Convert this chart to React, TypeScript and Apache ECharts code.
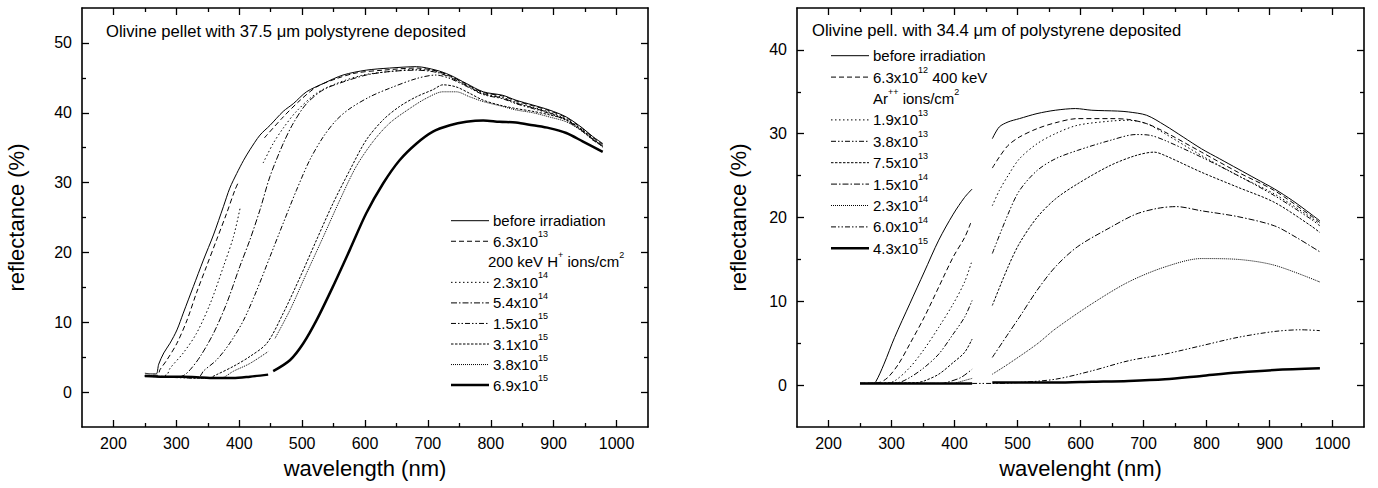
import React, { useEffect, useRef } from "react";
import * as echarts from "echarts";

const FONT = "Liberation Sans, Arial, Helvetica, sans-serif";

// ---------- axis ticks ----------
const xMajor = [200, 300, 400, 500, 600, 700, 800, 900, 1000];
const xMinor = [250, 350, 450, 550, 650, 750, 850, 950];
const yMajorL = [0, 10, 20, 30, 40, 50];
const yMinorL = [5, 15, 25, 35, 45];
const yMajorR = [0, 10, 20, 30, 40];
const yMinorR = [5, 15, 25, 35];

// ---------- left panel: 200 keV H+ ----------
const L_before = [[250,2.7],[260,2.6],[268,2.6],[272,4.0],[280,5.6],[290,7.0],[301,8.9],[311,11.3],[327,15.1],[343,18.9],[359,22.5],[375,26.6],[385,29.2],[396,31.3],[407,33.2],[417,34.7],[433,36.8],[449,38.2],[470,40.2],[486,41.3],[507,43.0],[534,44.2],[565,45.4],[602,46.1],[639,46.4],[682,46.6],[713,46.1],[735,45.4],[761,44.2],[788,43.0],[819,42.5],[840,41.8],[867,41.1],[893,40.4],[920,39.4],[946,37.8],[962,36.6],[978,35.6]];
const L_63e13 = [[250,2.4],[270,2.4],[274,3.2],[285,4.6],[301,7.0],[317,10.3],[332,14.2],[348,18.0],[364,21.8],[380,25.6],[393,28.9],[399,30.1],[420,null],[440,36.4],[470,39.4],[497,41.8],[523,43.7],[555,44.9],[586,45.7],[629,46.1],[682,46.4],[713,46.0],[735,45.3],[761,44.1],[788,42.9],[819,42.4],[840,41.7],[867,41.0],[893,40.3],[920,39.3],[946,37.7],[962,36.5],[978,35.5]];
const L_23e14 = [[250,2.3],[270,2.2],[285,2.5],[290,3.4],[311,5.6],[332,8.4],[354,12.7],[375,18.0],[391,22.3],[402,26.6],[420,null],[438,32.8],[454,35.6],[470,37.8],[491,40.2],[523,42.8],[555,44.2],[597,45.4],[639,45.9],[682,46.2],[713,45.9],[735,45.2],[761,44.0],[788,42.8],[819,42.2],[840,41.5],[867,40.8],[893,40.1],[920,39.1],[946,37.5],[962,36.3],[978,35.4]];
const L_54e14 = [[250,2.3],[300,2.1],[312,2.4],[322,3.2],[338,5.1],[359,8.4],[380,12.7],[401,18.0],[417,21.8],[433,26.1],[449,30.9],[470,35.6],[486,38.5],[507,41.3],[534,43.3],[565,44.4],[602,45.4],[639,45.9],[682,46.1],[713,45.8],[735,45.1],[761,43.9],[788,42.7],[819,42.1],[840,41.4],[867,40.7],[893,40.0],[920,39.0],[946,37.4],[962,36.2],[978,35.3]];
const L_15e15 = [[250,2.3],[330,2.0],[338,2.3],[343,3.0],[364,4.6],[385,7.0],[407,10.3],[428,14.6],[449,19.4],[470,24.2],[491,28.9],[512,33.2],[534,36.6],[555,39.0],[576,40.6],[608,42.3],[639,43.5],[682,44.9],[713,45.4],[735,44.9],[761,43.8],[788,42.6],[819,42.0],[840,41.3],[867,40.6],[893,39.9],[920,38.9],[946,37.3],[962,36.1],[978,35.2]];
const L_31e15 = [[250,2.3],[350,2.0],[364,2.5],[391,3.7],[417,5.1],[444,7.0],[470,11.3],[497,16.5],[523,21.8],[549,27.0],[576,31.8],[602,36.1],[629,39.0],[655,40.9],[682,42.3],[708,43.3],[724,44.0],[745,43.7],[766,42.8],[788,41.8],[814,41.1],[840,40.6],[867,40.2],[893,39.7],[920,39.0],[946,37.5],[978,35.1]];
const L_38e15 = [[250,2.3],[370,2.0],[391,3.0],[417,4.1],[446,5.8],[451,null],[457,7.7],[481,11.8],[507,17.0],[534,22.3],[560,27.5],[586,32.3],[613,35.9],[639,38.5],[671,40.6],[698,42.1],[724,43.0],[745,43.0],[766,42.3],[788,41.6],[819,40.9],[840,40.4],[867,40.0],[893,39.4],[920,38.7],[946,37.3],[978,35.1]];
const L_69e15 = [[250,2.3],[280,2.2],[311,2.2],[340,2.1],[364,2.0],[390,2.0],[417,2.2],[446,2.5],[450,null],[454,3.0],[481,4.6],[502,7.0],[523,10.3],[549,15.1],[576,20.4],[602,25.6],[629,29.9],[655,33.2],[682,35.6],[708,37.3],[735,38.2],[761,38.7],[788,38.9],[814,38.7],[840,38.6],[867,38.2],[893,37.8],[920,37.1],[946,35.9],[978,34.4]];

// ---------- right panel: 400 keV Ar++ ----------
const R_before = [[250,0.2],[270,0.2],[275,0.4],[288,2.5],[305,5.7],[329,9.7],[352,13.5],[375,17.3],[398,20.4],[416,22.4],[428,23.4],[445,null],[460,29.4],[471,30.8],[485,31.4],[503,31.8],[531,32.4],[560,32.8],[592,33.0],[618,32.8],[659,32.7],[676,32.6],[705,32.2],[734,31.0],[763,29.6],[792,28.2],[821,27.0],[850,25.8],[879,24.6],[908,23.4],[937,22.0],[966,20.4],[980,19.6]];
const R_63e12 = [[250,0.2],[280,0.3],[294,0.9],[311,2.5],[329,4.9],[352,8.1],[375,11.7],[398,15.3],[416,17.6],[426,19.4],[445,null],[460,25.9],[471,27.2],[485,28.6],[503,29.6],[531,30.6],[560,31.3],[595,31.8],[647,31.8],[676,31.7],[705,31.2],[734,30.2],[792,27.8],[850,25.4],[908,23.2],[966,20.2],[980,19.4]];
const R_19e13 = [[250,0.2],[290,0.2],[305,0.5],[329,2.1],[352,4.3],[375,6.9],[398,9.7],[416,12.3],[428,14.9],[445,null],[460,21.4],[471,23.2],[485,25.0],[503,27.0],[531,28.8],[560,30.0],[595,31.0],[647,31.5],[676,31.6],[705,31.2],[734,30.0],[792,27.4],[850,25.0],[908,22.8],[966,20.0],[980,19.2]];
const R_38e13 = [[250,0.2],[310,0.3],[329,0.9],[352,2.1],[375,3.7],[398,6.1],[416,8.1],[428,10.1],[445,null],[460,15.7],[485,20.4],[503,23.2],[531,25.6],[560,27.0],[595,28.0],[647,29.2],[688,29.9],[711,29.8],[734,29.2],[792,27.2],[850,25.0],[908,22.6],[966,19.8],[980,19.0]];
const R_75e13 = [[250,0.2],[340,0.3],[352,0.5],[375,1.3],[398,2.7],[416,3.9],[428,5.5],[445,null],[460,9.5],[485,14.1],[503,16.9],[531,20.0],[560,22.2],[595,24.0],[647,26.2],[688,27.4],[717,27.8],[734,27.4],[792,25.4],[850,23.6],[908,21.8],[966,19.0],[980,18.2]];
const R_15e14 = [[250,0.2],[380,0.2],[387,0.3],[410,0.9],[428,1.9],[445,null],[460,3.3],[485,6.1],[503,8.1],[531,11.3],[560,14.1],[595,16.5],[647,18.8],[688,20.4],[723,21.1],[752,21.3],[792,20.8],[850,20.1],[908,19.0],[943,17.6],[980,15.9]];
const R_23e14 = [[250,0.2],[400,0.2],[404,0.3],[428,0.8],[445,null],[460,1.3],[485,2.5],[531,4.9],[560,6.7],[618,9.7],[676,12.3],[734,14.1],[792,15.1],[850,15.0],[908,14.3],[980,12.3]];
const R_60e14 = [[250,0.2],[460,0.2],[500,0.3],[560,0.7],[618,1.7],[676,2.9],[734,3.7],[792,4.7],[850,5.7],[908,6.4],[950,6.6],[980,6.5]];
const R_43e15 = [[250,0.2],[400,0.2],[428,0.2],[445,null],[460,0.3],[560,0.3],[618,0.4],[676,0.5],[734,0.7],[792,1.1],[850,1.5],[908,1.8],[980,2.0]];

// ---------- line styles ----------
const ST = {
  solid: { type: "solid", width: 1 },
  dashed: { type: [5, 3], width: 1 },
  dotted: { type: [1.5, 2.5], width: 1 },
  dashDot: { type: [6, 2, 1.5, 2], width: 1 },
  dashDotDot: { type: [5, 2, 1.5, 2, 1.5, 2], width: 1 },
  shortDash: { type: [2.5, 1.5], width: 1 },
  fineDot: { type: [1, 1], width: 1 },
  thick: { type: "solid", width: 2.5 },
};

const leftSeries = [
  { name: "before irradiation", data: L_before, st: ST.solid },
  { name: "6.3x10^{13}", data: L_63e13, st: ST.dashed },
  { name: "2.3x10^{14}", data: L_23e14, st: ST.dotted },
  { name: "5.4x10^{14}", data: L_54e14, st: ST.dashDot },
  { name: "1.5x10^{15}", data: L_15e15, st: ST.dashDotDot },
  { name: "3.1x10^{15}", data: L_31e15, st: ST.shortDash },
  { name: "3.8x10^{15}", data: L_38e15, st: ST.fineDot },
  { name: "6.9x10^{15}", data: L_69e15, st: ST.thick },
];
const rightSeries = [
  { name: "before irradiation", data: R_before, st: ST.solid },
  { name: "6.3x10^{12} 400 keV", data: R_63e12, st: ST.dashed },
  { name: "1.9x10^{13}", data: R_19e13, st: ST.dotted },
  { name: "3.8x10^{13}", data: R_38e13, st: ST.dashDotDot },
  { name: "7.5x10^{13}", data: R_75e13, st: ST.shortDash },
  { name: "1.5x10^{14}", data: R_15e14, st: ST.dashDot },
  { name: "2.3x10^{14}", data: R_23e14, st: ST.fineDot },
  { name: "6.0x10^{14}", data: R_60e14, st: ST.dashDotDot },
  { name: "4.3x10^{15}", data: R_43e15, st: ST.thick },
];

const leftLegendRows = [
  { text: "before irradiation", st: ST.solid },
  { text: "6.3x10^{13}", st: ST.dashed },
  { text: "200 keV H^{+} ions/cm^{2}", st: null },
  { text: "2.3x10^{14}", st: ST.dotted },
  { text: "5.4x10^{14}", st: ST.dashDot },
  { text: "1.5x10^{15}", st: ST.dashDotDot },
  { text: "3.1x10^{15}", st: ST.shortDash },
  { text: "3.8x10^{15}", st: ST.fineDot },
  { text: "6.9x10^{15}", st: ST.thick },
];
const rightLegendRows = [
  { text: "before irradiation", st: ST.solid },
  { text: "6.3x10^{12} 400 keV", st: ST.dashed },
  { text: "Ar^{++} ions/cm^{2}", st: null },
  { text: "1.9x10^{13}", st: ST.dotted },
  { text: "3.8x10^{13}", st: ST.dashDotDot },
  { text: "7.5x10^{13}", st: ST.shortDash },
  { text: "1.5x10^{14}", st: ST.dashDot },
  { text: "2.3x10^{14}", st: ST.fineDot },
  { text: "6.0x10^{14}", st: ST.dashDotDot },
  { text: "4.3x10^{15}", st: ST.thick },
];

function toRich(s: string) {
  const parts = s.split(/\^\{([^}]*)\}/);
  return parts
    .map((p, i) => (p === "" ? "" : i % 2 ? `{s|${p}}` : `{n|${p}}`))
    .join("");
}

const RICH = {
  n: { fontSize: 15, fontFamily: FONT, fill: "#000", padding: [4, 0, 0, 0] },
  s: { fontSize: 9, fontFamily: FONT, fill: "#000", verticalAlign: "top" },
};

function legendGraphics(rows: any[], x1: number, x2: number, tx: number, y0: number, dy: number, textX2: number) {
  const els: any[] = [];
  rows.forEach((r, i) => {
    const y = y0 + i * dy;
    if (r.st) {
      els.push({
        type: "line",
        shape: { x1, y1: y, x2, y2: y },
        style: {
          stroke: "#000",
          lineWidth: r.st.width,
          lineDash: Array.isArray(r.st.type) ? r.st.type : null,
        },
      });
    }
    els.push({
      type: "text",
      x: r.st ? tx : textX2,
      y: y - 2,
      style: { text: toRich(r.text), rich: RICH, verticalAlign: "middle", align: "left" },
    });
  });
  return els;
}

function axesFor(grid: number, yMin: number, yMax: number, yMajor: number[], yMinor: number[], yNameGap: number) {
  const line = { show: true, onZero: false, lineStyle: { color: "#000", width: 1.6 } };
  const noLine = { show: false, onZero: false };
  const mk = (pos: string, major: boolean, isX: boolean) => {
    const vals = isX ? (major ? xMajor : xMinor) : major ? yMajor : yMinor;
    const primary = major && (pos === "bottom" || pos === "left");
    const a: any = {
      gridIndex: grid,
      type: "value",
      position: pos,
      min: isX ? 150 : yMin,
      max: isX ? 1050 : yMax,
      axisLine: major ? line : noLine,
      axisTick: {
        show: true,
        inside: true,
        length: major ? 7 : 4,
        customValues: vals,
        lineStyle: { color: "#000", width: 1.3 },
      },
      axisLabel: primary
        ? {
            show: true,
            customValues: vals,
            formatter: (v: number) => String(v),
            fontSize: 16,
            fontFamily: FONT,
            color: "#000",
            margin: isX ? 8 : 10,
          }
        : { show: false },
      splitLine: { show: false },
    };
    if (primary) {
      a.name = isX ? (grid === 0 ? "wavelength (nm)" : "wavelenght (nm)") : "reflectance (%)";
      a.nameLocation = "middle";
      a.nameGap = isX ? 30 : yNameGap;
      a.nameTextStyle = { fontSize: 22, fontFamily: FONT, color: "#000" };
    }
    return a;
  };
  return {
    x: [mk("bottom", true, true), mk("bottom", false, true), mk("top", true, true), mk("top", false, true)],
    y: [mk("left", true, false), mk("left", false, false), mk("right", true, false), mk("right", false, false)],
  };
}

function buildSeries(list: any[], axisIdx: number) {
  return list.map((s) => ({
    type: "line",
    name: s.name,
    xAxisIndex: axisIdx,
    yAxisIndex: axisIdx,
    data: s.data,
    showSymbol: false,
    symbol: "none",
    smooth: 0.3,
    connectNulls: false,
    lineStyle: { color: "#000", width: s.st.width, type: s.st.type },
    silent: true,
  }));
}

export default function App() {
  const ref = useRef<HTMLDivElement>(null);
  useEffect(() => {
    if (!ref.current) return;
    const chart = echarts.init(ref.current, null, { renderer: "svg" });
    const a0 = axesFor(0, -5, 55, yMajorL, yMinorL, 55);
    const a1 = axesFor(1, -5, 45, yMajorR, yMinorR, 48);
    const option: any = {
      animation: false,
      backgroundColor: "#fff",
      grid: [
        { left: 82, top: 8, width: 566, height: 419 },
        { left: 797, top: 8, width: 567, height: 419 },
      ],
      xAxis: [...a0.x, ...a1.x],
      yAxis: [...a0.y, ...a1.y],
      series: [...buildSeries(leftSeries, 0), ...buildSeries(rightSeries, 4)],
      graphic: [
        {
          type: "text",
          x: 106,
          y: 31,
          style: {
            text: "Olivine pellet with 37.5 \u03bcm polystyrene deposited",
            fontSize: 16.6,
            fontFamily: FONT,
            fill: "#000",
            verticalAlign: "middle",
          },
        },
        {
          type: "text",
          x: 812,
          y: 30,
          style: {
            text: "Olivine pell. with 34.4 \u03bcm of polystyrene deposited",
            fontSize: 16.6,
            fontFamily: FONT,
            fill: "#000",
            verticalAlign: "middle",
          },
        },
        ...legendGraphics(leftLegendRows, 451, 489, 493, 220.7, 20.55, 488),
        ...legendGraphics(rightLegendRows, 831, 869, 873, 55.7, 21.4, 873),
      ],
    };
    chart.setOption(option);
    return () => chart.dispose();
  }, []);
  return (
    <div
      ref={ref}
      style={{ position: "fixed", left: 0, top: 0, width: 1378, height: 488, background: "#fff" }}
    />
  );
}
